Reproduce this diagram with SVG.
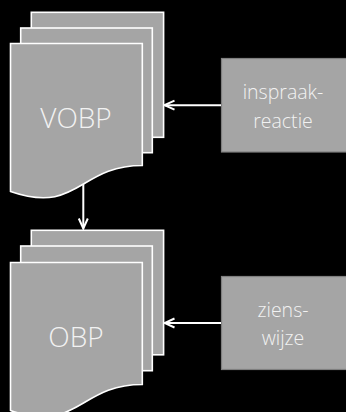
<svg xmlns="http://www.w3.org/2000/svg" width="346" height="412" viewBox="0 0 346 412">
<defs>
<style>
.pg{fill:#a5a5a5;stroke:#ffffff;stroke-width:1.6}
.bx{fill:#a5a5a5;stroke:#7f7f7f;stroke-width:1.2}
.big{font-family:"Open Sans","Liberation Sans",sans-serif;font-weight:300;font-size:28px;fill:#f2f2f2;text-anchor:middle}
.sm{font-family:"Open Sans","Liberation Sans",sans-serif;font-weight:300;font-size:19.5px;fill:#f2f2f2;text-anchor:middle}
.ln{stroke:#ffffff;stroke-width:2;fill:none}
</style>
<marker id="ah" viewBox="0 0 12 12" refX="11" refY="6" markerWidth="12" markerHeight="12" markerUnits="userSpaceOnUse" orient="auto">
<path d="M1,1.5 L11,6 L1,10.5" fill="none" stroke="#ffffff" stroke-width="2"/>
</marker>
</defs>
<rect width="346" height="412" fill="#000000"/>
<g id="vobp">
<rect class="pg" x="31.3" y="12.3" width="132.3" height="125"/>
<rect class="pg" x="20.7" y="28" width="131.6" height="124.7"/>
<path class="pg" d="M10.5,43.5 H142.3 V165.5 C78.5,165.5 78.5,215 10.5,191.5 Z"/>
<text class="big" x="76" y="128">VOBP</text>
</g>
<g id="obp">
<rect class="pg" x="31.3" y="230.3" width="132.3" height="124.5"/>
<rect class="pg" x="20.7" y="246" width="131.6" height="124.7"/>
<path class="pg" d="M10.5,262.5 H142.3 V384.5 C78.5,384.5 78.5,434 10.5,410.5 Z"/>
<text class="big" x="76" y="347">OBP</text>
</g>
<g id="inspraak">
<rect class="bx" x="221.5" y="58.5" width="126" height="93.5"/>
<text class="sm" x="283" y="99">inspraak-</text>
<text class="sm" x="283" y="127.5">reactie</text>
</g>
<g id="zienswijze">
<rect class="bx" x="221.5" y="276.5" width="126" height="93"/>
<text class="sm" x="283" y="316.5">ziens-</text>
<text class="sm" x="283" y="345">wijze</text>
</g>
<g id="connectors">
<line class="ln" x1="83.3" y1="184" x2="83.3" y2="228.5" marker-end="url(#ah)"/>
<line class="ln" x1="221" y1="105.2" x2="164.5" y2="105.2" marker-end="url(#ah)"/>
<line class="ln" x1="221" y1="323" x2="164.5" y2="323" marker-end="url(#ah)"/>
</g>
</svg>
